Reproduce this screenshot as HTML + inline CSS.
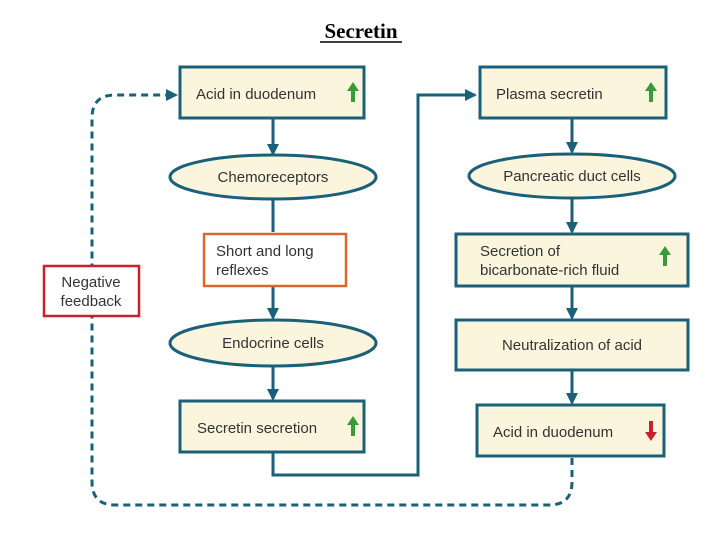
<!DOCTYPE html>
<html><head><meta charset="utf-8"><style>
body{margin:0;background:#fff;width:720px;height:540px;overflow:hidden}
svg{display:block}
text{font-family:"Liberation Sans",sans-serif;font-size:15px;fill:#333}
</style></head><body>
<svg width="720" height="540" viewBox="0 0 720 540">
<defs>
<marker id="a" markerWidth="12" markerHeight="12" refX="10" refY="6" orient="auto" markerUnits="userSpaceOnUse"><path d="M0,0 L12,6 L0,12 z" fill="#1b6079"/></marker>
</defs>
<text x="361" y="38" text-anchor="middle" style="font-family:'Liberation Serif',serif;font-weight:bold;font-size:21px;fill:#000">Secretin</text>
<line x1="320" y1="42" x2="402" y2="42" stroke="#000" stroke-width="1.5"/>
<g stroke="#1b6079" stroke-width="3" fill="none">
<path d="M273,118 V154" marker-end="url(#a)"/>
<path d="M273,199 V232"/>
<path d="M273,286 V318" marker-end="url(#a)"/>
<path d="M273,366 V399" marker-end="url(#a)"/>
<path d="M273,452 V475 H418 V95 H475" marker-end="url(#a)"/>
<path d="M572,118 V152" marker-end="url(#a)"/>
<path d="M572,198 V232" marker-end="url(#a)"/>
<path d="M572,286 V318" marker-end="url(#a)"/>
<path d="M572,370 V403" marker-end="url(#a)"/>
<path d="M572,458 V482 Q572,505 549,505 H115 Q92,505 92,482 V118 Q92,95 115,95 H176" stroke-dasharray="7,5" marker-end="url(#a)"/>
</g>
<g stroke="#1b6079" stroke-width="3" fill="#fbf5de">
<rect x="180" y="67" width="184" height="51"/>
<ellipse cx="273" cy="177" rx="103" ry="22"/>
<ellipse cx="273" cy="343" rx="103" ry="23"/>
<rect x="180" y="401" width="184" height="51"/>
<rect x="480" y="67" width="186" height="51"/>
<ellipse cx="572" cy="176" rx="103" ry="22"/>
<rect x="456" y="234" width="232" height="52"/>
<rect x="456" y="320" width="232" height="50"/>
<rect x="477" y="405" width="187" height="51"/>
</g>
<rect x="204" y="234" width="142" height="52" fill="#fff" stroke="#d9692a" stroke-width="2.5"/>
<rect x="44" y="266" width="95" height="50" fill="#fff" stroke="#c8202f" stroke-width="2.5"/>
<text x="196" y="99">Acid in duodenum</text>
<text x="273" y="182" text-anchor="middle">Chemoreceptors</text>
<text x="216" y="256">Short and long</text>
<text x="216" y="275">reflexes</text>
<text x="273" y="348" text-anchor="middle">Endocrine cells</text>
<text x="197" y="433">Secretin secretion</text>
<text x="496" y="99">Plasma secretin</text>
<text x="572" y="181" text-anchor="middle">Pancreatic duct cells</text>
<text x="480" y="256">Secretion of</text>
<text x="480" y="275">bicarbonate-rich fluid</text>
<text x="572" y="350" text-anchor="middle">Neutralization of acid</text>
<text x="493" y="437">Acid in duodenum</text>
<text x="91" y="287" text-anchor="middle">Negative</text>
<text x="91" y="306" text-anchor="middle">feedback</text>
<g fill="#3a9a3a">
<path d="M353,82 L347,91 H351 V102 H355 V91 H359 Z"/>
<path d="M353,416 L347,425 H351 V436 H355 V425 H359 Z"/>
<path d="M651,82 L645,91 H649 V102 H653 V91 H657 Z"/>
<path d="M665,246 L659,255 H663 V266 H667 V255 H671 Z"/>
</g>
<path d="M651,441 L645,432 H649 V421 H653 V432 H657 Z" fill="#c8202f"/>
</svg>
</body></html>
